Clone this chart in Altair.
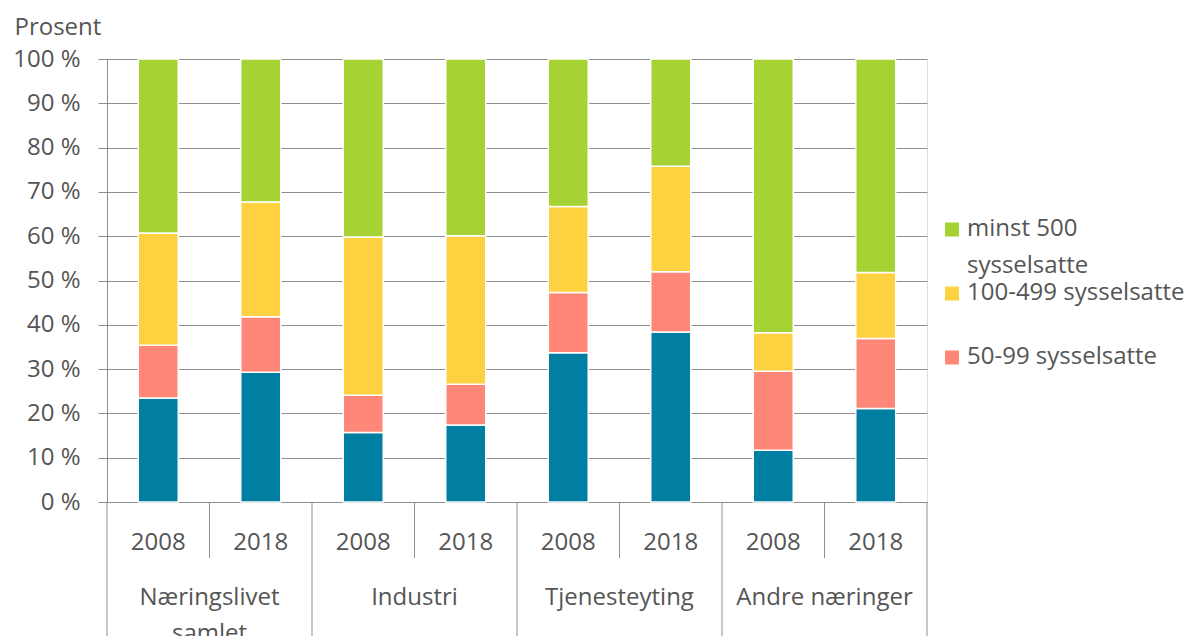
import altair as alt
import pandas as pd

# ---- data ----
groups = ["Næringslivet\nsamlet", "Industri", "Tjenesteyting", "Andre næringer"]
years = ["2008", "2018"]
series = ["under 50 sysselsatte", "50-99 sysselsatte", "100-499 sysselsatte", "minst 500 sysselsatte"]
under_50 = [23.5, 29.3, 15.7, 17.4, 33.7, 38.4, 11.7, 21.1]
s_50_99 = [11.9, 12.5, 8.4, 9.2, 13.6, 13.6, 17.8, 15.8]
s_100_499 = [25.3, 25.9, 35.7, 33.5, 19.4, 23.8, 8.7, 14.9]
minst_500 = [39.3, 32.3, 40.2, 39.9, 33.3, 24.2, 61.8, 48.2]
colors = ["#007fa2", "#ff8777", "#fed141", "#a6d234"]
legend_series = ["minst 500 sysselsatte", "100-499 sysselsatte", "50-99 sysselsatte"]
legend_labels = ["minst 500\nsysselsatte", "100-499 sysselsatte", "50-99 sysselsatte"]

# ---- style ----
FONT = "Open Sans"
TXT = "#555555"
GRID = "#8f8f8f"
W, H = 820, 443

values = [under_50, s_50_99, s_100_499, minst_500]
rows, yr_rows, grp_rows = [], [], []
slot = 0
for gi, g in enumerate(groups):
    grp_rows.append({"gpos": slot + len(years) / 2, "group": g})
    for y in years:
        yr_rows.append({"pos": slot + 0.5, "year": y})
        for si, s in enumerate(series):
            rows.append({"pos": slot + 0.5, "group": g, "year": y, "series": s,
                         "order": si, "value": values[si][slot]})
        slot += 1
n_slots = slot
df = pd.DataFrame(rows)
df_years = pd.DataFrame(yr_rows)
df_groups = pd.DataFrame(grp_rows)
short_b = [b for b in range(n_slots + 1) if b % len(years) != 0]
long_b = [b for b in range(n_slots + 1) if b % len(years) == 0]
df_short = pd.DataFrame({"b": short_b})
df_long = pd.DataFrame({"b": long_b})

xscale = alt.Scale(domain=[0, n_slots], nice=False, zero=False, padding=0)
cscale = alt.Scale(domain=series, range=colors)

bars = alt.Chart(df).mark_bar(size=40, stroke="white", strokeWidth=1.5).encode(
    x=alt.X("pos:Q", scale=xscale,
            axis=alt.Axis(title=None, labels=False, ticks=False, grid=False,
                          domain=True, domainColor=GRID, domainWidth=1)),
    y=alt.Y("value:Q", stack="zero", scale=alt.Scale(domain=[0, 100], nice=False),
            axis=alt.Axis(values=list(range(0, 101, 10)), labelExpr="datum.value + ' %'",
                          tickSize=9, tickColor=GRID, domainColor=GRID, gridColor=GRID,
                          grid=True, labelPadding=18, labelFontSize=24, labelColor=TXT,
                          labelFont=FONT, title="Prosent", titleAngle=0, titleAlign="left",
                          titleBaseline="alphabetic", titleX=-93, titleY=-25,
                          titleFontSize=24, titleFontWeight="normal", titleColor=TXT,
                          titleFont=FONT)),
    color=alt.Color("series:N", scale=cscale, legend=None),
    order=alt.Order("order:Q"),
)

year_text = alt.Chart(df_years).mark_text(
    font=FONT, fontSize=24, color=TXT, baseline="alphabetic", align="center"
).encode(x=alt.X("pos:Q", scale=xscale), y=alt.value(H + 48), text="year:N")

group_text = alt.Chart(df_groups).mark_text(
    font=FONT, fontSize=24, color=TXT, baseline="alphabetic", align="center",
    lineBreak="\n", lineHeight=36
).encode(x=alt.X("gpos:Q", scale=xscale), y=alt.value(H + 103), text="group:N")

short_rules = alt.Chart(df_short).mark_rule(color=GRID, strokeWidth=1).encode(
    x=alt.X("b:Q", scale=xscale), y=alt.value(H), y2=alt.value(H + 56))
long_rules = alt.Chart(df_long).mark_rule(color=GRID, strokeWidth=1).encode(
    x=alt.X("b:Q", scale=xscale), y=alt.value(H), y2=alt.value(H + 200))

legend_layers = []
for i, (s, lab) in enumerate(zip(legend_series, legend_labels)):
    d = pd.DataFrame({"series": [s], "label": [lab]})
    base_y = 177 + 64 * i
    legend_layers.append(
        alt.Chart(d).mark_square(size=196, opacity=1).encode(
            x=alt.value(845), y=alt.value(base_y - 6.5),
            color=alt.Color("series:N", scale=cscale, legend=None)))
    legend_layers.append(
        alt.Chart(d).mark_text(font=FONT, fontSize=24, color=TXT, align="left",
                               baseline="alphabetic", lineBreak="\n", lineHeight=36.5).encode(
            x=alt.value(860), y=alt.value(base_y), text="label:N"))

chart = alt.layer(bars, short_rules, long_rules, year_text, group_text, *legend_layers).properties(
    width=W, height=H,
    autosize=alt.AutoSizeParams(type="none"),
    padding={"left": 99, "top": 51, "right": 260, "bottom": 150},
).configure_view(stroke=None).configure(background="white")

chart.save("out.html", embed_options={"renderer": "svg", "actions": False})
